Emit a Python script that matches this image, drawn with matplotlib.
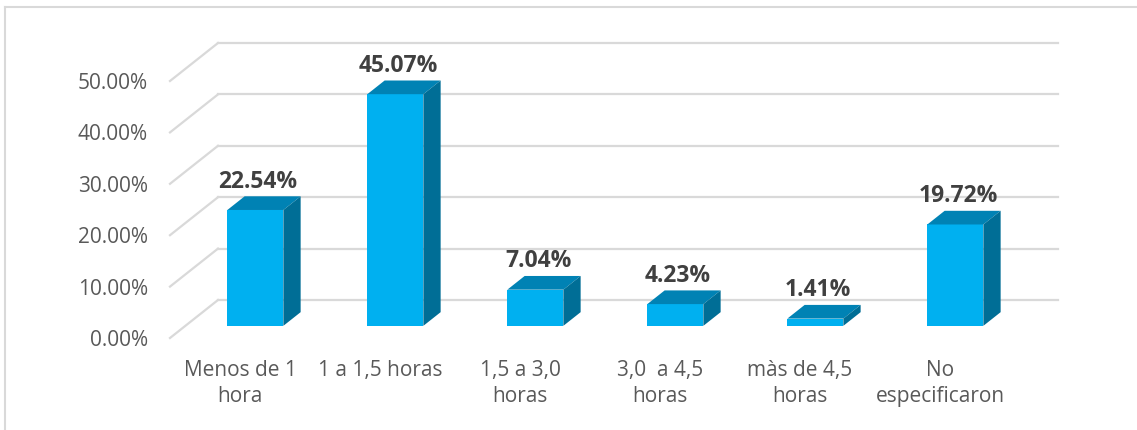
import matplotlib
matplotlib.use("Agg")
import matplotlib.pyplot as plt
from matplotlib.patches import Polygon, Rectangle
from matplotlib.lines import Line2D

categories = ["Menos de 1\nhora", "1 a 1,5 horas", "1,5 a 3,0\nhoras",
              "3,0  a 4,5\nhoras", "màs de 4,5\nhoras", "No\nespecificaron"]
values = [22.54, 45.07, 7.04, 4.23, 1.41, 19.72]
labels = ["22.54%", "45.07%", "7.04%", "4.23%", "1.41%", "19.72%"]
yticks = [0, 10, 20, 30, 40, 50]
ytick_labels = ["0.00%", "10.00%", "20.00%", "30.00%", "40.00%", "50.00%"]

W, H = 1137, 430
fig = plt.figure(figsize=(W / 100, H / 100), dpi=100)
fig.patch.set_facecolor("white")

# outer border (top and left visible)
fig.add_artist(Line2D([5 / W, 1.0], [1 - 7 / H, 1 - 7 / H], color="#D9D9D9", lw=1.5))
fig.add_artist(Line2D([5 / W, 5 / W], [0, 1 - 7 / H], color="#D9D9D9", lw=1.5))

# front plane axes
px_per_x = 140.0
px_per_y = 5.14
left_px, right_px, zero_px = 170, 1010, 338
ymax = 60
ax = fig.add_axes([left_px / W, (H - zero_px) / H, (right_px - left_px) / W,
                   ymax * px_per_y / H])
ax.set_xlim(-0.5, len(categories) - 0.5)
ax.set_ylim(0, ymax)
ax.patch.set_alpha(0)
for s in ax.spines.values():
    s.set_visible(False)

# depth offsets
DX = 48 / px_per_x
DY = 38 / px_per_y
f0, fd = 0.32, 0.36

grid_c = "#D9D9D9"
n = len(categories)
for v in yticks:
    ax.plot([-0.5 + DX, n - 0.5 + DX], [v + DY, v + DY], color=grid_c, lw=1.6,
            clip_on=False, zorder=1)
    ax.plot([-0.5, -0.5 + DX], [v, v + DY], color=grid_c, lw=1.6,
            clip_on=False, zorder=1)

front_c, top_c, side_c = "#00B0F0", "#0082B4", "#006E96"
bw = 0.4
ddx, ddy = fd * DX, fd * DY
for i, v in enumerate(values):
    x0 = i - bw / 2 + f0 * DX
    y0 = f0 * DY
    ax.add_patch(Rectangle((x0, y0), bw, v, facecolor=front_c, edgecolor="none",
                           clip_on=False, zorder=3))
    ax.add_patch(Polygon([(x0, y0 + v), (x0 + bw, y0 + v), (x0 + bw + ddx, y0 + v + ddy),
                          (x0 + ddx, y0 + v + ddy)], closed=True, facecolor=top_c,
                         edgecolor="none", clip_on=False, zorder=3))
    ax.add_patch(Polygon([(x0 + bw, y0), (x0 + bw + ddx, y0 + ddy),
                          (x0 + bw + ddx, y0 + v + ddy), (x0 + bw, y0 + v)], closed=True,
                         facecolor=side_c, edgecolor="none", clip_on=False, zorder=3))
    ax.text(x0 + bw / 2 + 0.02, y0 + v + ddy + 0.5, labels[i], ha="center", va="bottom",
            fontsize=16.5, fontweight="bold", color="#404040", family="Open Sans",
            zorder=4)

ax.set_yticks(yticks)
ax.set_yticklabels(ytick_labels)
ax.set_xticks(range(n))
ax.set_xticklabels(categories, linespacing=1.3)
ax.tick_params(axis="y", length=0, pad=16, labelsize=15, labelcolor="#595959")
ax.tick_params(axis="x", length=0, pad=16, labelsize=15, labelcolor="#595959")
for t in ax.get_yticklabels() + ax.get_xticklabels():
    t.set_family("Open Sans")
for t in ax.get_xticklabels():
    t.set_va("top")

fig.savefig("out.png", dpi=100, facecolor="white")
